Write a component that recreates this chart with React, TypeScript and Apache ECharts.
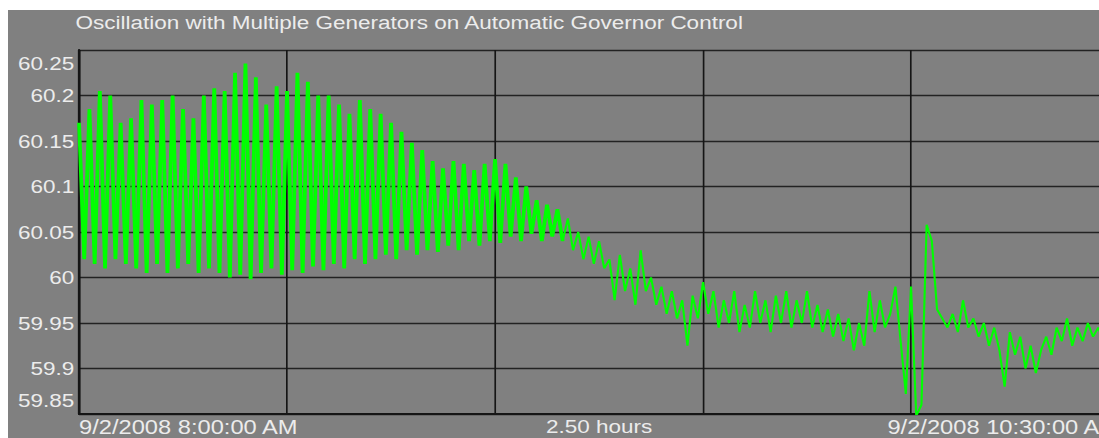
import React, { useEffect, useRef } from "react";
import * as echarts from "echarts";

const TITLE = "Oscillation with Multiple Generators on Automatic Governor Control";
const START_LABEL = "9/2/2008 8:00:00 AM";
const END_LABEL = "9/2/2008 10:30:00 AM";
const SPAN_LABEL = "2.50 hours";
const SPAN_MINUTES = 150;
const GRID_STEP_MINUTES = 30;
const SAMPLE_STEP_MINUTES = 0.75;
const Y_MIN = 59.85;
const Y_MAX = 60.25;
const Y_STEP = 0.05;

// Frequency (Hz), one sample every 0.75 min
const oscillationHz = [
  60.17, 60.02, 60.185, 60.015, 60.205, 60.01, 60.2, 60.02, 60.17, 60.015,
  60.175, 60.01, 60.195, 60.005, 60.19, 60.015, 60.195, 60.005, 60.2, 60.01,
  60.185, 60.015, 60.175, 60.005, 60.2, 60.01, 60.208, 60.005, 60.205, 60.0,
  60.225, 60.003, 60.235, 59.998, 60.22, 60.005, 60.19, 60.01, 60.21, 60.003,
  60.205, 60.008, 60.225, 60.005, 60.215, 60.012, 60.2, 60.008, 60.2, 60.015,
  60.19, 60.01, 60.18, 60.02, 60.195, 60.015, 60.185, 60.02, 60.18, 60.025,
  60.17, 60.02, 60.16, 60.03, 60.148, 60.025, 60.14, 60.03, 60.128, 60.028,
  60.12, 60.035, 60.128, 60.03, 60.125, 60.04, 60.118, 60.035, 60.125, 60.04,
  60.13, 60.038, 60.125, 60.045, 60.11, 60.04, 60.1, 60.048, 60.085, 60.04,
  60.08, 60.045, 60.075, 60.04,
];

const declineHz = [
  60.065, 60.03, 60.05, 60.02, 60.045, 60.015, 60.04, 60.01, 60.02, 59.975,
  60.025, 59.985, 60.01, 59.97, 60.03, 59.985, 60.0, 59.97, 59.99, 59.96,
  59.985, 59.955, 59.975, 59.925, 59.98, 59.955, 59.995,
];

const tailHz = [
  59.96, 59.985, 59.945, 59.975, 59.95, 59.985, 59.94, 59.97, 59.945, 59.985,
  59.95, 59.975, 59.94, 59.98, 59.95, 59.985, 59.945, 59.975, 59.95, 59.985,
  59.945, 59.97, 59.94, 59.965, 59.935, 59.96, 59.93, 59.955, 59.92, 59.95,
  59.925, 59.985, 59.94, 59.975, 59.945, 59.96, 59.99, 59.93, 59.872, 59.99,
  59.848, 59.86, 60.058, 60.04, 59.965, 59.955, 59.945, 59.96, 59.94, 59.975,
  59.945, 59.955, 59.935, 59.95, 59.925, 59.945, 59.92, 59.88, 59.94, 59.915,
  59.935, 59.9, 59.925, 59.895, 59.92, 59.935, 59.915, 59.945, 59.93, 59.955,
  59.925, 59.945, 59.93, 59.95, 59.935, 59.945, 59.93, 59.95, 59.94, 59.945,
];

const TEXT_COLOR = "#ececec";
const FONT = "'Liberation Sans', Arial, sans-serif";
const FONT_SIZE = 19;
const X_LABEL_FONT_SIZE = 20;
const STRETCH_X = 1.184;
const INNER_WIDTH = 960;
const HEIGHT = 428;

export default function App() {
  const ref = useRef<HTMLDivElement>(null);

  useEffect(() => {
    if (!ref.current) return;
    const chart = echarts.init(ref.current, null, { renderer: "svg" });
    const oscData = oscillationHz.map((v, i) => [i * SAMPLE_STEP_MINUTES, v]);
    const lastIdx = oscillationHz.length - 1;
    const restValues = [oscillationHz[lastIdx], ...declineHz, ...tailHz];
    const restData = restValues.map((v, i) => [(lastIdx + i) * SAMPLE_STEP_MINUTES, v]);
    const gridLeft = 60;
    const plotWidth = 1040 / STRETCH_X;

    chart.setOption({
      animation: false,
      backgroundColor: "#808080",
      title: {
        text: TITLE,
        left: 57,
        top: 3,
        padding: 0,
        textStyle: { color: TEXT_COLOR, fontSize: FONT_SIZE, fontWeight: "normal", fontFamily: FONT },
      },
      grid: {
        left: gridLeft,
        right: INNER_WIDTH - gridLeft - plotWidth,
        top: 40,
        bottom: 24,
        containLabel: false,
        outerBoundsMode: "none",
      },
      xAxis: {
        type: "value",
        min: 0,
        max: SPAN_MINUTES,
        interval: GRID_STEP_MINUTES,
        name: SPAN_LABEL,
        nameLocation: "middle",
        nameGap: 3,
        nameMoveOverlap: false,
        nameTextStyle: { color: TEXT_COLOR, fontSize: FONT_SIZE, fontFamily: FONT, verticalAlign: "top" },
        axisLine: { show: true, lineStyle: { color: "#151515", width: 2 } },
        axisTick: { show: false },
        splitLine: { show: true, lineStyle: { color: "#151515", width: 1.4 } },
        axisLabel: {
          color: TEXT_COLOR,
          fontSize: X_LABEL_FONT_SIZE,
          fontFamily: FONT,
          margin: 3,
          showMinLabel: true,
          showMaxLabel: true,
          alignMinLabel: "left",
          alignMaxLabel: "right",
          formatter: (v: number) => (v === 0 ? START_LABEL : v === SPAN_MINUTES ? END_LABEL : ""),
        },
      },
      yAxis: {
        type: "value",
        min: Y_MIN,
        max: Y_MAX,
        interval: Y_STEP,
        axisLine: { show: true, lineStyle: { color: "#151515", width: 2 } },
        axisTick: { show: false },
        splitLine: { show: true, lineStyle: { color: "#222222", width: 1.4 } },
        axisLabel: {
          color: TEXT_COLOR,
          fontSize: FONT_SIZE,
          fontFamily: FONT,
          margin: 4,
          showMinLabel: true,
          showMaxLabel: true,
          formatter: (v: number) => {
            const s = String(parseFloat(v.toFixed(2)));
            if (Math.abs(v - Y_MAX) < 1e-6) return `{top|${s}}`;
            if (Math.abs(v - Y_MIN) < 1e-6) return `{bot|${s}}`;
            return s;
          },
          rich: {
            top: { padding: [26, 0, 0, 0], color: TEXT_COLOR, fontSize: FONT_SIZE, fontFamily: FONT },
            bot: { padding: [0, 0, 28, 0], color: TEXT_COLOR, fontSize: FONT_SIZE, fontFamily: FONT },
          },
        },
      },
      series: [
        {
          type: "line",
          data: oscData,
          showSymbol: false,
          symbol: "none",
          clip: true,
          lineStyle: { color: "#00ff00", width: 3.2 },
        },
        {
          type: "line",
          data: restData,
          showSymbol: false,
          symbol: "none",
          clip: true,
          lineStyle: { color: "#00ff00", width: 1.8 },
        },
      ],
    });
    return () => chart.dispose();
  }, []);

  return (
    <div
      style={{
        position: "fixed",
        left: 8,
        top: 10,
        width: 1091,
        height: HEIGHT,
        overflow: "hidden",
        background: "#808080",
      }}
    >
      <div
        ref={ref}
        style={{
          width: INNER_WIDTH,
          height: HEIGHT,
          transform: `scaleX(${STRETCH_X})`,
          transformOrigin: "0 0",
        }}
      />
    </div>
  );
}
